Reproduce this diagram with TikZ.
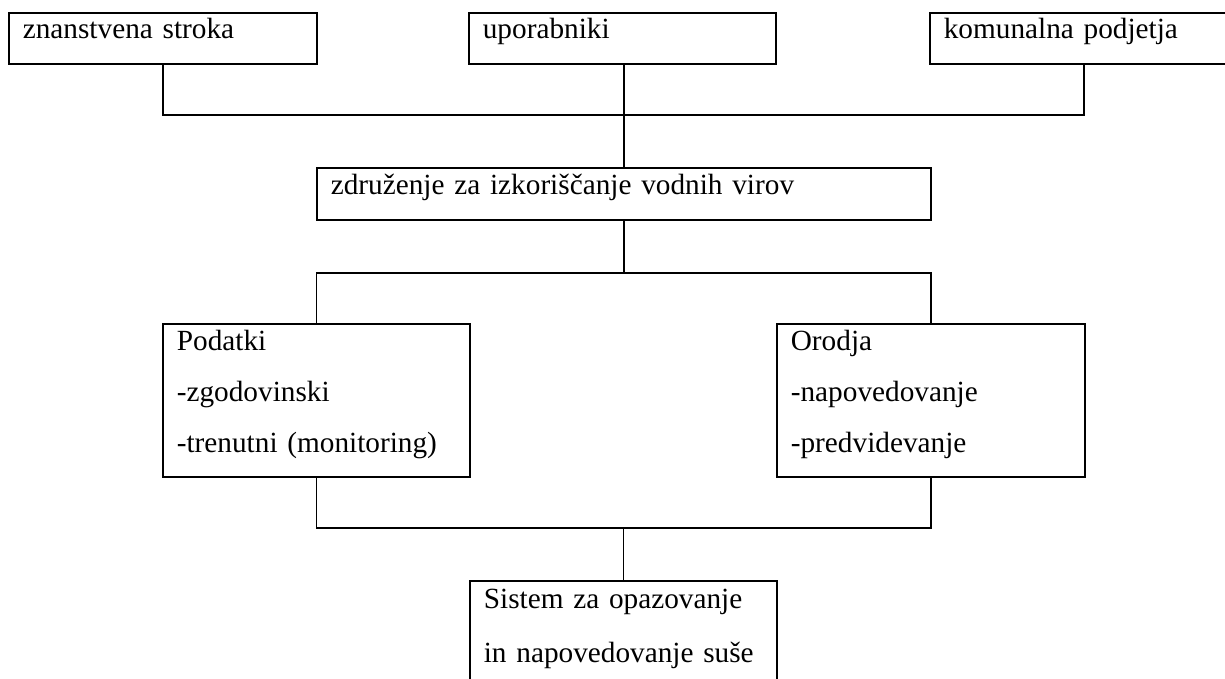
\documentclass[tikz,border=0pt]{standalone}
\usepackage{fontspec}
\setmainfont{Liberation Serif}
\usepackage{tikz}

\begin{document}
\begin{tikzpicture}[
    x=0.41pt, y=-0.41pt,
    box/.style={draw=black, line width=0.7pt, rectangle, anchor=north west, align=left, inner xsep=5.74pt, inner ysep=0pt, font=\fontsize{12}{20.9}\selectfont},
    onebox/.style={box, text height=10.66pt, text depth=10.25pt},
    listbox/.style={box, text height=11.07pt, text depth=51.64pt},
    link/.style={draw=black, line width=0.7pt}
]
    \clip (0,0) rectangle (1225,679);

    % Nodes
    \node (stroka) [onebox, text width=114.8pt] at (8,12) {znanstvena stroka};
    \node (uporabniki) [onebox, text width=114.4pt] at (468,12) {uporabniki};
    \node (komunalna) [onebox, text width=114.8pt] at (929,12) {komunalna podjetja};
    \node (zdruzenje) [onebox, text height=11.07pt, text width=240.3pt] at (316,167) {združenje za izkoriščanje vodnih virov};
    \node (podatki) [listbox, text width=114.4pt] at (162,323) {Podatki\\-zgodovinski\\-trenutni (monitoring)};
    \node (orodja) [listbox, text width=114.8pt] at (776,323) {Orodja\\-napovedovanje\\-predvidevanje};
    \node (sistem) [box, text height=11.48pt, text depth=32.35pt, text width=114.4pt] at (469,580) {\makebox[114.4pt][s]{Sistem za opazovanje}\\[1.2pt]in napovedovanje suše};

    \path (zdruzenje.north) ++(0,-52) coordinate (topbus);
    \path (zdruzenje.south) ++(0,52) coordinate (midbus);
    \path (sistem.north) ++(0,-52) coordinate (lowbus);

    % Links
    \draw [link] (stroka.south) |- (topbus) -| (komunalna.south);
    \draw [link] (topbus |- uporabniki.south) -- (zdruzenje.north);
    \draw [link] (zdruzenje.south) -- (midbus);
    \draw [link] (podatki.north) |- (midbus) -| (orodja.north);
    \draw [link] (podatki.south) |- (lowbus) -| (orodja.south);
    \draw [link] (lowbus) -- (sistem.north);
\end{tikzpicture}
\end{document}
